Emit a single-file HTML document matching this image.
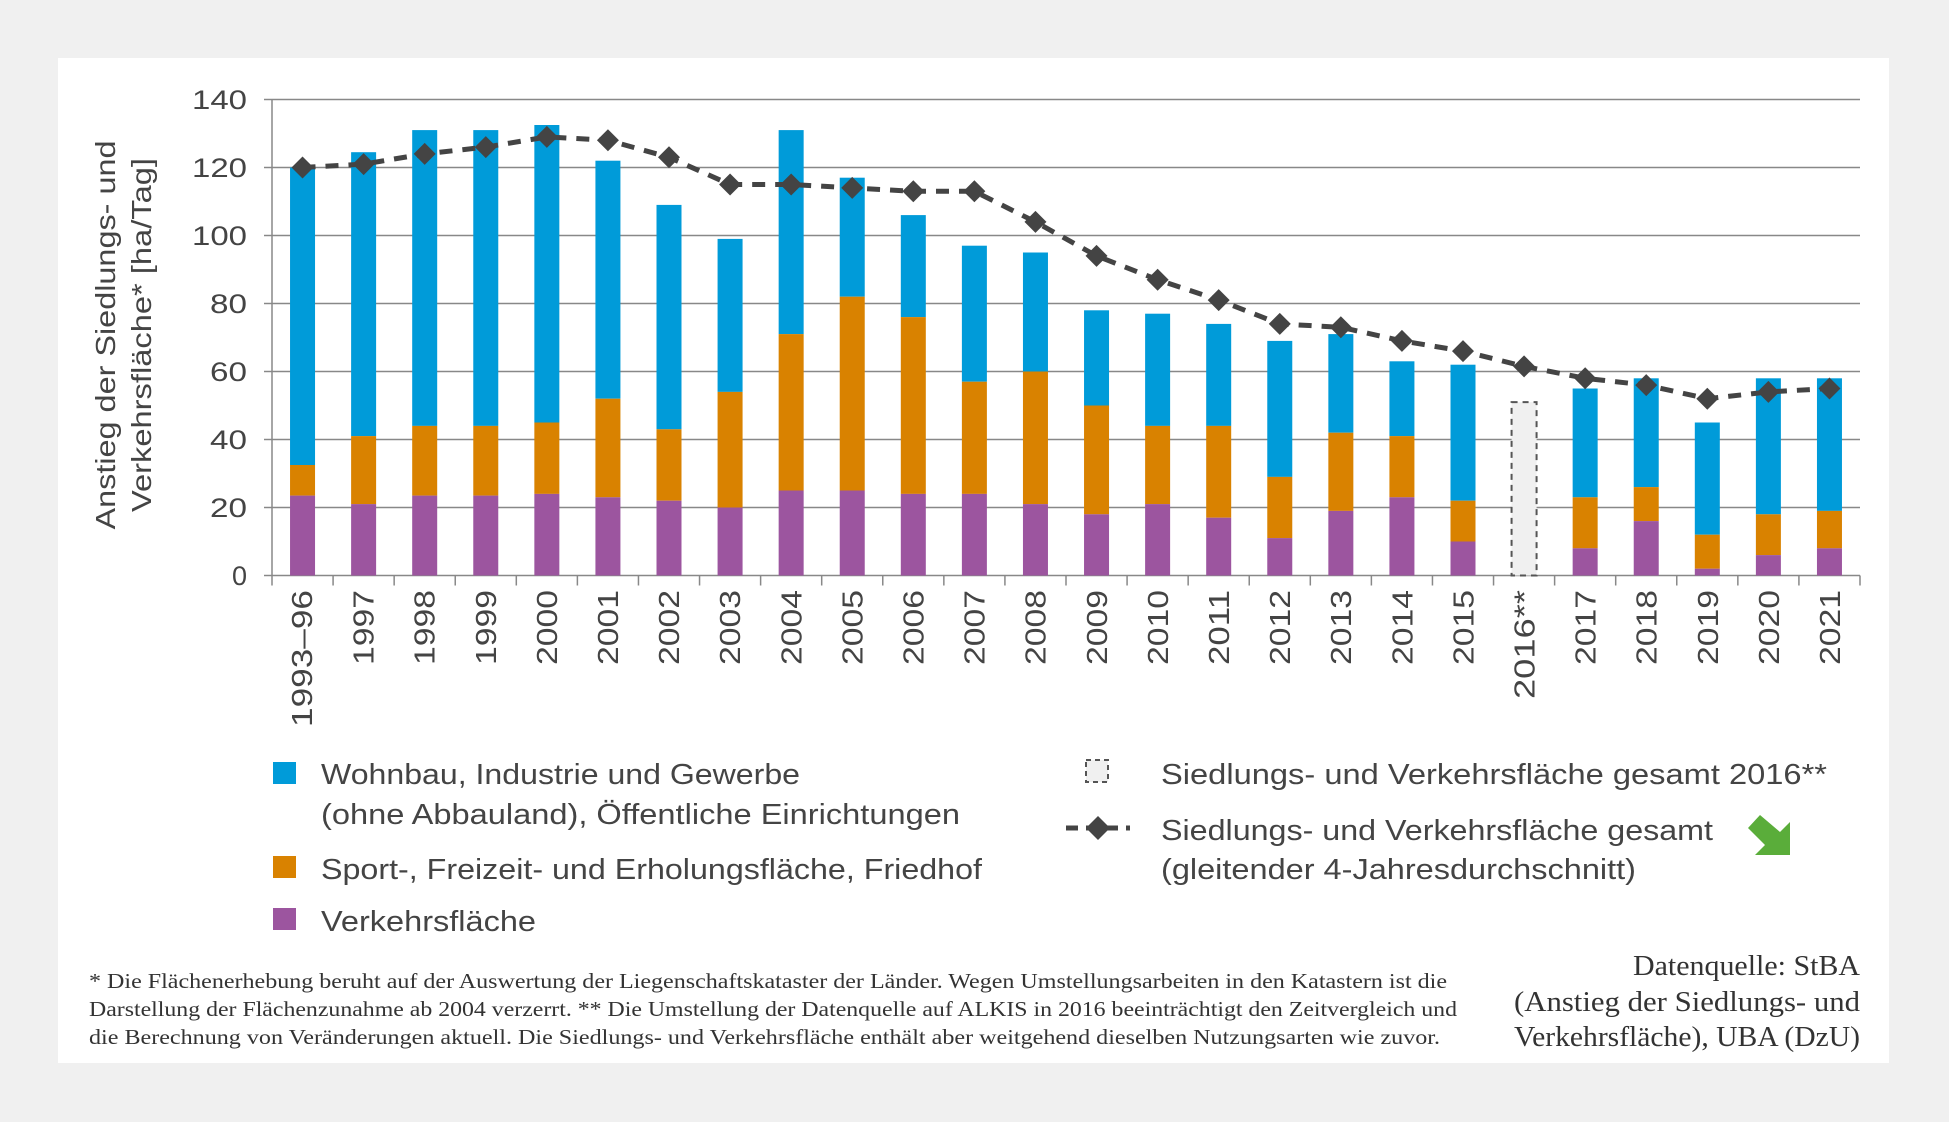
<!DOCTYPE html>
<html><head><meta charset="utf-8"><style>
html,body{margin:0;padding:0;width:1949px;height:1122px;background:#f0f0f0;overflow:hidden}
svg{display:block}
.s{font-family:"Liberation Sans",sans-serif;fill:#444}
.f{font-family:"Liberation Serif",serif;fill:#333}
</style></head><body>
<svg id="c" width="1949" height="1122" xmlns="http://www.w3.org/2000/svg">
<rect x="58" y="58" width="1831" height="1005" fill="#fff"/>
<g id="grid"></g>
<g id="bars"></g>
<g id="line"></g>
<g class="s" font-size="27" text-anchor="end" lengthAdjust="spacingAndGlyphs">
<text x="247" y="109" textLength="55" lengthAdjust="spacingAndGlyphs">140</text><text x="247" y="177" textLength="55" lengthAdjust="spacingAndGlyphs">120</text><text x="247" y="245" textLength="55" lengthAdjust="spacingAndGlyphs">100</text>
<text x="247" y="313" textLength="37" lengthAdjust="spacingAndGlyphs">80</text><text x="247" y="381" textLength="37" lengthAdjust="spacingAndGlyphs">60</text><text x="247" y="449" textLength="37" lengthAdjust="spacingAndGlyphs">40</text>
<text x="247" y="517" textLength="37" lengthAdjust="spacingAndGlyphs">20</text><text x="247" y="585">0</text>
</g>
<g class="s" font-size="28" text-anchor="middle">
<text transform="translate(115,335) rotate(-90)" textLength="389" lengthAdjust="spacingAndGlyphs">Anstieg der Siedlungs- und</text>
<text transform="translate(151,335) rotate(-90)" textLength="354" lengthAdjust="spacingAndGlyphs">Verkehrsfläche* [ha/Tag]</text>
</g>
<g class="s" font-size="29" text-anchor="end">
<text transform="translate(312,590) rotate(-90)" textLength="137" lengthAdjust="spacingAndGlyphs">1993–96</text>
<text transform="translate(373.6,590) rotate(-90)" textLength="75" lengthAdjust="spacingAndGlyphs">1997</text>
<text transform="translate(434.7,590) rotate(-90)" textLength="75" lengthAdjust="spacingAndGlyphs">1998</text>
<text transform="translate(495.8,590) rotate(-90)" textLength="75" lengthAdjust="spacingAndGlyphs">1999</text>
<text transform="translate(556.9,590) rotate(-90)" textLength="75" lengthAdjust="spacingAndGlyphs">2000</text>
<text transform="translate(618,590) rotate(-90)" textLength="75" lengthAdjust="spacingAndGlyphs">2001</text>
<text transform="translate(679.1,590) rotate(-90)" textLength="75" lengthAdjust="spacingAndGlyphs">2002</text>
<text transform="translate(740.2,590) rotate(-90)" textLength="75" lengthAdjust="spacingAndGlyphs">2003</text>
<text transform="translate(801.3,590) rotate(-90)" textLength="75" lengthAdjust="spacingAndGlyphs">2004</text>
<text transform="translate(862.4,590) rotate(-90)" textLength="75" lengthAdjust="spacingAndGlyphs">2005</text>
<text transform="translate(923.5,590) rotate(-90)" textLength="75" lengthAdjust="spacingAndGlyphs">2006</text>
<text transform="translate(984.6,590) rotate(-90)" textLength="75" lengthAdjust="spacingAndGlyphs">2007</text>
<text transform="translate(1045.7,590) rotate(-90)" textLength="75" lengthAdjust="spacingAndGlyphs">2008</text>
<text transform="translate(1106.8,590) rotate(-90)" textLength="75" lengthAdjust="spacingAndGlyphs">2009</text>
<text transform="translate(1167.9,590) rotate(-90)" textLength="75" lengthAdjust="spacingAndGlyphs">2010</text>
<text transform="translate(1229,590) rotate(-90)" textLength="75" lengthAdjust="spacingAndGlyphs">2011</text>
<text transform="translate(1290.1,590) rotate(-90)" textLength="75" lengthAdjust="spacingAndGlyphs">2012</text>
<text transform="translate(1351.2,590) rotate(-90)" textLength="75" lengthAdjust="spacingAndGlyphs">2013</text>
<text transform="translate(1412.3,590) rotate(-90)" textLength="75" lengthAdjust="spacingAndGlyphs">2014</text>
<text transform="translate(1473.4,590) rotate(-90)" textLength="75" lengthAdjust="spacingAndGlyphs">2015</text>
<text transform="translate(1534.5,590) rotate(-90)" textLength="109" lengthAdjust="spacingAndGlyphs">2016**</text>
<text transform="translate(1595.6,590) rotate(-90)" textLength="75" lengthAdjust="spacingAndGlyphs">2017</text>
<text transform="translate(1656.7,590) rotate(-90)" textLength="75" lengthAdjust="spacingAndGlyphs">2018</text>
<text transform="translate(1717.8,590) rotate(-90)" textLength="75" lengthAdjust="spacingAndGlyphs">2019</text>
<text transform="translate(1778.9,590) rotate(-90)" textLength="75" lengthAdjust="spacingAndGlyphs">2020</text>
<text transform="translate(1840,590) rotate(-90)" textLength="75" lengthAdjust="spacingAndGlyphs">2021</text>
</g>
<!-- legend -->
<rect x="273" y="762" width="23" height="22" fill="#009bd9"/>
<rect x="273" y="856" width="23" height="22" fill="#d98200"/>
<rect x="273" y="908" width="23" height="22" fill="#9c559f"/>
<g class="s" font-size="29">
<text x="321" y="784" textLength="479" lengthAdjust="spacingAndGlyphs">Wohnbau, Industrie und Gewerbe</text>
<text x="321" y="824" textLength="639" lengthAdjust="spacingAndGlyphs">(ohne Abbauland), Öffentliche Einrichtungen</text>
<text x="321" y="879" textLength="661" lengthAdjust="spacingAndGlyphs">Sport-, Freizeit- und Erholungsfläche, Friedhof</text>
<text x="321" y="931" textLength="215" lengthAdjust="spacingAndGlyphs">Verkehrsfläche</text>
<text x="1161" y="784" textLength="666" lengthAdjust="spacingAndGlyphs">Siedlungs- und Verkehrsfläche gesamt 2016**</text>
<text x="1161" y="840" textLength="552" lengthAdjust="spacingAndGlyphs">Siedlungs- und Verkehrsfläche gesamt</text>
<text x="1161" y="879" textLength="475" lengthAdjust="spacingAndGlyphs">(gleitender 4-Jahresdurchschnitt)</text>
</g>
<rect x="1086" y="760" width="22" height="22" fill="#f0f0f0" stroke="#555" stroke-width="2" stroke-dasharray="5,4"/>
<line x1="1066" y1="828" x2="1130" y2="828" stroke="#444" stroke-width="5" stroke-dasharray="12,8"/>
<path d="M1098 816 L1110 828 L1098 840 L1086 828Z" fill="#444"/>
<path d="M1760 815 L1748 828 L1765 845 L1755 855 L1790 855 L1790 822 L1780 832 Z" fill="#5aad3a"/>
<g class="f" font-size="21">
<text x="89" y="988" textLength="1358" lengthAdjust="spacingAndGlyphs">* Die Flächenerhebung beruht auf der Auswertung der Liegenschaftskataster der Länder. Wegen Umstellungsarbeiten in den Katastern ist die</text>
<text x="89" y="1016" textLength="1368" lengthAdjust="spacingAndGlyphs">Darstellung der Flächenzunahme ab 2004 verzerrt. ** Die Umstellung der Datenquelle auf ALKIS in 2016 beeinträchtigt den Zeitvergleich und</text>
<text x="89" y="1044" textLength="1351" lengthAdjust="spacingAndGlyphs">die Berechnung von Veränderungen aktuell. Die Siedlungs- und Verkehrsfläche enthält aber weitgehend dieselben Nutzungsarten wie zuvor.</text>
</g>
<g class="f" font-size="28" text-anchor="end">
<text x="1860" y="975" textLength="227" lengthAdjust="spacingAndGlyphs">Datenquelle: StBA</text>
<text x="1860" y="1011" textLength="346" lengthAdjust="spacingAndGlyphs">(Anstieg der Siedlungs- und</text>
<text x="1860" y="1046" textLength="346" lengthAdjust="spacingAndGlyphs">Verkehrsfläche), UBA (DzU)</text>
</g>
</svg>
<script>
(function(){
var NS="http://www.w3.org/2000/svg";
function el(p,t,a){var e=document.createElementNS(NS,t);for(var k in a)e.setAttribute(k,a[k]);p.appendChild(e);return e;}
function Y(v){return 575.5-v*3.4;}
var L=272,R=1860,W=(R-L)/26;
var g=document.getElementById('grid');
for(var v=20;v<=140;v+=20)el(g,'line',{x1:L,x2:R,y1:Y(v),y2:Y(v),stroke:'#888','stroke-width':1.5});
for(var v=0;v<=140;v+=20)el(g,'line',{x1:L-8,x2:L,y1:Y(v),y2:Y(v),stroke:'#888','stroke-width':1.5});
el(g,'line',{x1:L,x2:L,y1:Y(140),y2:Y(0)+10,stroke:'#888','stroke-width':1.5});
el(g,'line',{x1:L,x2:R,y1:Y(0),y2:Y(0),stroke:'#888','stroke-width':1.5});
for(var i=1;i<=26;i++)el(g,'line',{x1:L+W*i,x2:L+W*i,y1:Y(0),y2:Y(0)+10,stroke:'#888','stroke-width':1.5});
var d=[[23.5,32.5,120],[21,41,124.5],[23.5,44,131],[23.5,44,131],[24,45,132.5],[23,52,122],[22,43,109],[20,54,99],[25,71,131],[25,82,117],[24,76,106],[24,57,97],[21,60,95],[18,50,78],[21,44,77],[17,44,74],[11,29,69],[19,42,71],[23,41,63],[10,22,62],null,[8,23,55],[16,26,58],[2,12,45],[6,18,58],[8,19,58]];
var b=document.getElementById('bars'),bw=25;
d.forEach(function(r,i){var cx=L+W*(i+0.5),x=cx-bw/2;
 if(!r){el(b,'rect',{x:x,y:Y(51),width:bw,height:Y(0)-Y(51),fill:'#f0f0f0',stroke:'#555','stroke-width':2,'stroke-dasharray':'6,5'});return;}
 el(b,'rect',{x:x,y:Y(r[2]),width:bw,height:Y(r[1])-Y(r[2]),fill:'#009bd9'});
 el(b,'rect',{x:x,y:Y(r[1]),width:bw,height:Y(r[0])-Y(r[1]),fill:'#d98200'});
 el(b,'rect',{x:x,y:Y(r[0]),width:bw,height:Y(0)-Y(r[0]),fill:'#9c559f'});
});
var ln=[120,121,124,126,129,128,123,115,115,114,113,113,104,94,87,81,74,73,69,66,61.5,58,56,52,54,55];
var lg=document.getElementById('line'),pts=ln.map(function(v,i){return (L+W*(i+0.5))+','+Y(v);}).join(' ');
el(lg,'polyline',{points:pts,fill:'none',stroke:'#444','stroke-width':5,'stroke-dasharray':'13,10'});
ln.forEach(function(v,i){var cx=L+W*(i+0.5),cy=Y(v),s=11;el(lg,'path',{d:'M'+cx+' '+(cy-s)+'L'+(cx+s)+' '+cy+'L'+cx+' '+(cy+s)+'L'+(cx-s)+' '+cy+'Z',fill:'#444'});});
})();
</script>
</body></html>
